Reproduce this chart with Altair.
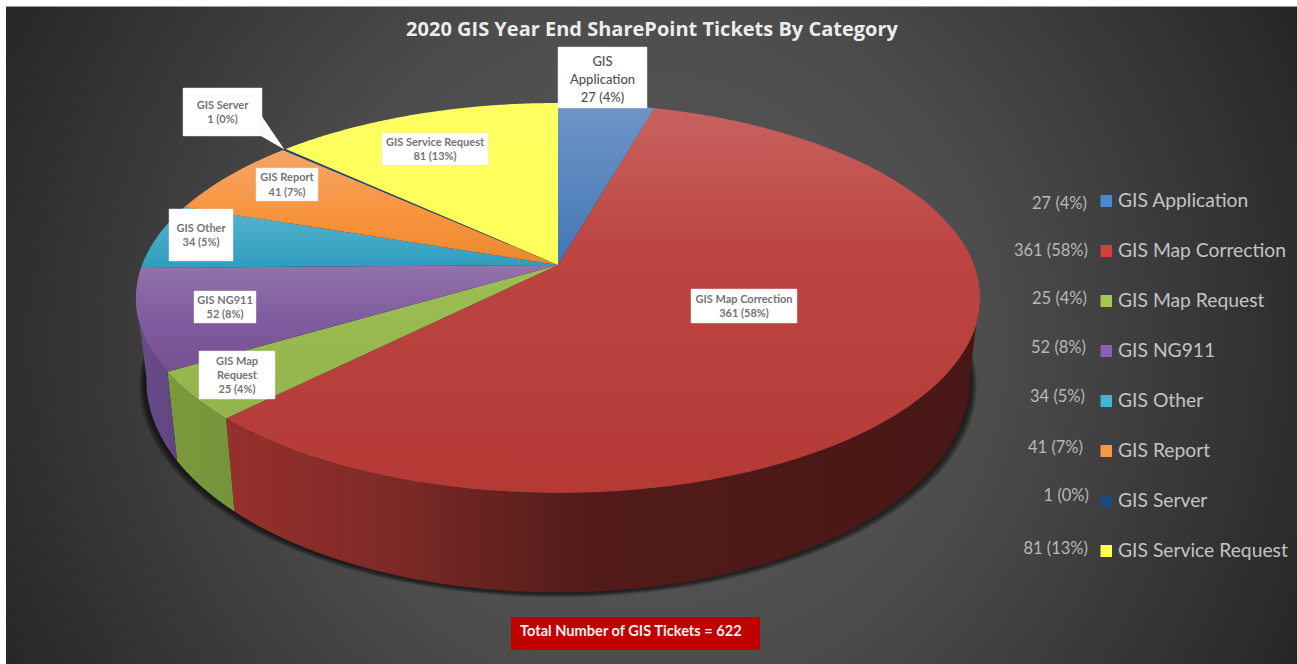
import math
import altair as alt
import pandas as pd

W, H = 1297, 664

# Ticket counts by category, in clockwise order from twelve o'clock
categories = ["GIS Application", "GIS Map Correction", "GIS Map Request", "GIS NG911",
              "GIS Other", "GIS Report", "GIS Server", "GIS Service Request"]
tickets = [27, 361, 25, 52, 34, 41, 1, 81]
total = sum(tickets)
value_text = [f"{v} ({round(v / total * 100)}%)" for v in tickets]

# Slice label wrapping
label_lines = [["GIS", "Application"], ["GIS Map Correction"], ["GIS Map", "Request"], ["GIS NG911"],
               ["GIS Other"], ["GIS Report"], ["GIS Server"], ["GIS Service Request"]]

# Styling: gradient stops for the top face of every slice, legend swatches, side walls
top_stops = [
    [(0, "#7095c8"), (1, "#4276b6")],
    [(0, "#c8625f"), (0.38, "#bc4441"), (1, "#b53a36")],
    [(0, "#9dbd55"), (1, "#93b34b")],
    [(0, "#9273aa"), (0.55, "#7e5a9f"), (1, "#76528f")],
    [(0, "#58b4ce"), (1, "#2f9dbe")],
    [(0, "#f5a569"), (0.55, "#f8943d"), (1, "#ea882f")],
    [(0, "#1f497d"), (1, "#1f497d")],
    [(0, "#ffff60"), (1, "#ffff5a")],
]
swatch_colors = ["#4a88d0", "#d23f3f", "#a2c850", "#8a5fb5", "#40b6d6", "#f79646", "#1f497d", "#ffff55"]
wall_stops = {
    1: [(0, "#97302c"), (0.22, "#7d2a27"), (0.48, "#521b19"), (1, "#481715")],
    2: [(0, "#7b9a3c"), (1, "#76943a")],
    3: [(0, "#6a4c8c"), (1, "#5f4680")],
}

# Layout: label boxes as (left, top, right, bottom), legend rows
label_boxes = [(558, 47, 647, 108), (691, 289, 797, 323), (199, 351, 275, 399), (194, 291, 256, 323),
               (169, 209, 233, 261), (256, 168, 318, 201), (183, 88, 262, 136), (382, 133, 488, 165)]
legend_y = [201, 251, 301, 351, 401, 451, 501, 551]
legend_value_y = [204, 251, 299, 348, 397, 448, 496, 549]
legend_value_x = [1087, 1088, 1087, 1086, 1085, 1083, 1089, 1088]

# Perspective mapping of the pie disc to the screen
CX, CY, S = 558, 265, 416
C, A = 0.169, -144.6


def rim(theta):
    sin, cos = math.sin(theta), math.cos(theta)
    d = 1 + C * cos
    return CX + S * sin / d, (A * cos + CY) / d


def lower_rim(theta, grow=0.0):
    x, y = rim(theta)
    return CX + (x - CX) * 0.975 * (1 + grow / 410), y + 80 + (y - CY) * 0.085 + grow * 0.7


def sweep(a, b, fn=rim, n=90, **kw):
    return [list(fn(a + (b - a) * i / n, **kw)) for i in range(n + 1)]


def feature(ring):
    ring = ring + [ring[0]]
    return {"type": "Feature", "properties": {}, "geometry": {"type": "Polygon", "coordinates": [ring]}}


def gradient(stops, horizontal=False):
    return alt.LinearGradient(
        gradient="linear",
        stops=[alt.GradientStop(offset=o, color=c) for o, c in stops],
        x1=0, x2=1 if horizontal else 0, y1=0, y2=0 if horizontal else 1,
    )


def shape(ring, **mark):
    return alt.Chart(alt.Data(values=[feature(ring)])).mark_geoshape(strokeWidth=0, **mark).project(
        type="identity", scale=1, translate=[0, 0])


def xpos(f="x"):
    return alt.X(f"{f}:Q", scale=alt.Scale(domain=[0, W], range=[0, W], nice=False, zero=False), axis=None)


def ypos(f="y"):
    return alt.Y(f"{f}:Q", scale=alt.Scale(domain=[0, H], range=[0, H], nice=False, zero=False), axis=None)


def rects(rows, **mark):
    return alt.Chart(pd.DataFrame(rows)).mark_rect(**mark).encode(
        x=xpos("x"), x2="x2:Q", y=ypos("y"), y2="y2:Q")


def texts(rows, **mark):
    return alt.Chart(pd.DataFrame(rows)).mark_text(**mark).encode(x=xpos("x"), y=ypos("y"), text="t:N")


# Slice boundaries, measured clockwise from the top of the disc
edges = [0.0]
for v in tickets:
    edges.append(edges[-1] + v / total * 2 * math.pi)

layers = []

# Backdrop: a circular glow clipped to the view
glow = alt.RadialGradient(
    gradient="radial", x1=0.5, y1=0.506, r1=0, x2=0.5, y2=0.506, r2=0.56,
    stops=[alt.GradientStop(offset=0, color="#5a5a5a"), alt.GradientStop(offset=0.46, color="#4d4d4d"),
           alt.GradientStop(offset=1, color="#262626")],
)
layers.append(alt.Chart(pd.DataFrame({"a": [0]})).mark_rect(fill=glow, clip=True).encode(
    x=alt.value(0), x2=alt.value(W), y=alt.value(-316), y2=alt.value(981)))
layers.append(rects([{"x": 0, "x2": W, "y": 0, "y2": 6}, {"x": 0, "x2": 6, "y": 0, "y2": H}], fill="white"))
layers.append(rects([{"x": 6, "x2": W, "y": 6, "y2": 7}], fill="#9a9a9a"))

# Drop shadow hugging the base of the pie
for g in (7, 5.5, 4, 2.5):
    layers.append(shape(sweep(0, 2 * math.pi, lower_rim, n=180, grow=g), fill="#000000", opacity=0.2))

# Side walls of the slices that face the viewer
TANGENT_R = math.radians(99)
TANGENT_L = math.radians(261)
for i, stops in wall_stops.items():
    a, b = max(edges[i], TANGENT_R), min(edges[i + 1], TANGENT_L)
    ring = sweep(a, b, rim) + sweep(b, a, lower_rim)
    layers.append(shape(ring, fill=gradient(stops, horizontal=True)))

# Top faces
for i in range(len(tickets)):
    ring = [[CX, CY]] + sweep(edges[i], edges[i + 1])
    layers.append(shape(ring, fill=gradient(top_stops[i])))

# Callout pointer for the narrowest slice
bx0, by0, bx1, by1 = label_boxes[6]
tip = rim((edges[6] + edges[7]) / 2)
layers.append(shape([[bx1 - 1, by0 + 27], list(tip), [bx1 - 1, by1]], fill="white"))

# Slice labels
box_rows = [{"x": b[0], "x2": b[2], "y": b[1], "y2": b[3]} for b in label_boxes]
layers.append(rects(box_rows, fill="white", stroke="#e0e0e0", strokeWidth=0.5))

small_rows, large_rows = [], []
for i, b in enumerate(label_boxes):
    lines = label_lines[i] + [value_text[i]]
    mx, my = (b[0] + b[2]) / 2, (b[1] + b[3]) / 2
    step = 18 if i == 0 else 14.3
    for k, t in enumerate(lines):
        row = {"x": mx, "y": my + 1 + (k - (len(lines) - 1) / 2) * step, "t": t}
        (large_rows if i == 0 else small_rows).append(row)
layers.append(texts(small_rows, font="Lato", fontSize=11, fontWeight="bold", color="#747474",
                    align="center", baseline="middle"))
layers.append(texts(large_rows, font="Lato", fontSize=13, color="#4f4f4f", fontWeight=500,
                    align="center", baseline="middle", dy=1))

# Title
layers.append(texts([{"x": 652, "y": 30, "t": "2020 GIS Year End SharePoint Tickets By Category"}],
                    font="Open Sans", fontSize=20, fontWeight="bold", color="#ececec",
                    align="center", baseline="middle"))

# Legend: value, swatch, category
layers.append(alt.Chart(pd.DataFrame({
    "x": [1100.5] * 8, "x2": [1112] * 8,
    "y": [v - 6 for v in legend_y], "y2": [v + 6 for v in legend_y], "c": swatch_colors,
})).mark_rect().encode(x=xpos("x"), x2="x2:Q", y=ypos("y"), y2="y2:Q", fill=alt.Fill("c:N", scale=None)))
layers.append(texts([{"x": 1118, "y": y, "t": c} for y, c in zip(legend_y, categories)],
                    font="Lato", fontSize=19.3, color="#c4c4c4", align="left", baseline="middle"))
layers.append(texts([{"x": x, "y": y, "t": t} for x, y, t in zip(legend_value_x, legend_value_y, value_text)],
                    font="Lato", fontSize=16.5, color="#b8b8b8", align="right", baseline="middle"))

# Total badge
layers.append(rects([{"x": 511, "x2": 760, "y": 617, "y2": 650}], fill="#c00000"))
layers.append(texts([{"x": 520, "y": 632, "t": f"Total Number of GIS Tickets = {total}"}],
                    font="Lato", fontSize=14.6, fontWeight="bold", color="#f4f0f0",
                    align="left", baseline="middle"))

chart = alt.layer(*layers).properties(
    width=W, height=H, padding=0, background="white",
    autosize=alt.AutoSizeParams(type="none"),
).configure_view(strokeWidth=0)

chart.save("out.html", embed_options={"renderer": "svg", "actions": False})
